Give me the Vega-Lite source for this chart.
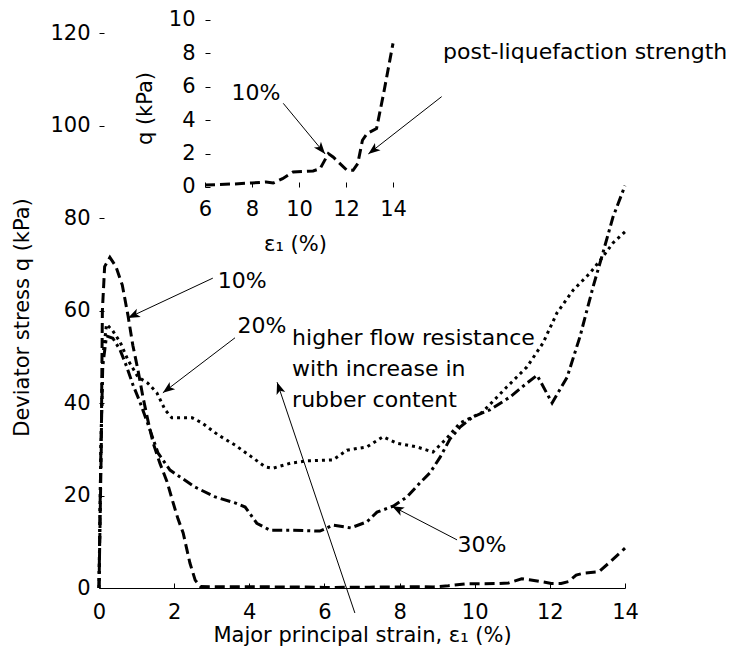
{
  "$schema": "https://vega.github.io/schema/vega-lite/v6.json",
  "width": 526,
  "height": 573,
  "autosize": {"type": "none"},
  "padding": {"left": 99, "top": 15, "right": 111, "bottom": 73},
  "background": "white",
  "config": {
    "view": {"stroke": null},
    "font": "DejaVu Sans",
    "axis": {
      "labelFont": "DejaVu Sans", "titleFont": "DejaVu Sans",
      "labelFontSize": 21, "titleFontSize": 21, "titleFontWeight": "normal",
      "labelColor": "black", "titleColor": "black", "tickColor": "black", "domainColor": "black",
      "grid": false, "tickSize": -5, "labelFlush": false, "labelOverlap": false
    },
    "text": {"font": "DejaVu Sans", "fontSize": 22, "color": "black"}
  },
  "datasets": {
    "main": [
      {"series": "10%", "x": 0, "y": 0}, {"series": "10%", "x": 0.06, "y": 30}, {"series": "10%", "x": 0.09, "y": 60},
      {"series": "10%", "x": 0.15, "y": 69.5}, {"series": "10%", "x": 0.29, "y": 71.5}, {"series": "10%", "x": 0.45, "y": 69.5},
      {"series": "10%", "x": 0.62, "y": 65.5}, {"series": "10%", "x": 0.77, "y": 59}, {"series": "10%", "x": 0.9, "y": 52.5},
      {"series": "10%", "x": 1.04, "y": 47}, {"series": "10%", "x": 1.17, "y": 41.3}, {"series": "10%", "x": 1.3, "y": 36.3},
      {"series": "10%", "x": 1.44, "y": 31.4}, {"series": "10%", "x": 1.62, "y": 27}, {"series": "10%", "x": 1.81, "y": 23},
      {"series": "10%", "x": 1.97, "y": 18.5}, {"series": "10%", "x": 2.1, "y": 15}, {"series": "10%", "x": 2.24, "y": 11.9},
      {"series": "10%", "x": 2.42, "y": 5.4}, {"series": "10%", "x": 2.56, "y": 1.7}, {"series": "10%", "x": 2.7, "y": 0.3},
      {"series": "10%", "x": 3.5, "y": 0.25}, {"series": "10%", "x": 4.5, "y": 0.25}, {"series": "10%", "x": 5.5, "y": 0.2},
      {"series": "10%", "x": 6, "y": 0.12}, {"series": "10%", "x": 7.2, "y": 0.18}, {"series": "10%", "x": 8.0, "y": 0.24},
      {"series": "10%", "x": 8.6, "y": 0.3}, {"series": "10%", "x": 8.9, "y": 0.24}, {"series": "10%", "x": 9.3, "y": 0.5},
      {"series": "10%", "x": 9.75, "y": 0.9}, {"series": "10%", "x": 10.6, "y": 0.96}, {"series": "10%", "x": 10.9, "y": 1.1},
      {"series": "10%", "x": 11.25, "y": 2.0}, {"series": "10%", "x": 11.45, "y": 1.8}, {"series": "10%", "x": 12.04, "y": 1.0},
      {"series": "10%", "x": 12.3, "y": 1.0}, {"series": "10%", "x": 12.5, "y": 1.4}, {"series": "10%", "x": 12.7, "y": 2.8},
      {"series": "10%", "x": 12.9, "y": 3.2}, {"series": "10%", "x": 13.3, "y": 3.5}, {"series": "10%", "x": 13.6, "y": 5.6},
      {"series": "10%", "x": 14, "y": 8.6},

      {"series": "20%", "x": 0, "y": 0}, {"series": "20%", "x": 0.05, "y": 30}, {"series": "20%", "x": 0.1, "y": 50},
      {"series": "20%", "x": 0.2, "y": 57}, {"series": "20%", "x": 0.35, "y": 55.8}, {"series": "20%", "x": 0.56, "y": 53.2},
      {"series": "20%", "x": 0.77, "y": 49.3}, {"series": "20%", "x": 1.04, "y": 45.6}, {"series": "20%", "x": 1.3, "y": 44.3},
      {"series": "20%", "x": 1.54, "y": 42.2}, {"series": "20%", "x": 1.76, "y": 38.5}, {"series": "20%", "x": 1.94, "y": 36.8},
      {"series": "20%", "x": 2.21, "y": 36.8}, {"series": "20%", "x": 2.48, "y": 36.8}, {"series": "20%", "x": 2.74, "y": 35.7},
      {"series": "20%", "x": 3.17, "y": 33.1}, {"series": "20%", "x": 3.62, "y": 30.9}, {"series": "20%", "x": 4.07, "y": 28.3},
      {"series": "20%", "x": 4.42, "y": 26.2}, {"series": "20%", "x": 4.63, "y": 25.9}, {"series": "20%", "x": 5.1, "y": 27},
      {"series": "20%", "x": 5.54, "y": 27.5}, {"series": "20%", "x": 6.23, "y": 27.7}, {"series": "20%", "x": 6.6, "y": 29.8},
      {"series": "20%", "x": 7.13, "y": 30.5}, {"series": "20%", "x": 7.56, "y": 32.7}, {"series": "20%", "x": 7.93, "y": 31.3},
      {"series": "20%", "x": 8.46, "y": 30.5}, {"series": "20%", "x": 8.89, "y": 29.4}, {"series": "20%", "x": 9.26, "y": 32.4},
      {"series": "20%", "x": 9.61, "y": 35.7}, {"series": "20%", "x": 9.95, "y": 37}, {"series": "20%", "x": 10.2, "y": 38},
      {"series": "20%", "x": 10.86, "y": 43.5}, {"series": "20%", "x": 11.39, "y": 47.8}, {"series": "20%", "x": 11.82, "y": 53},
      {"series": "20%", "x": 12.19, "y": 59.5}, {"series": "20%", "x": 12.62, "y": 64.4}, {"series": "20%", "x": 13.07, "y": 68.1},
      {"series": "20%", "x": 13.41, "y": 71.6}, {"series": "20%", "x": 13.68, "y": 74.6}, {"series": "20%", "x": 14, "y": 77},

      {"series": "30%", "x": 0, "y": 0}, {"series": "30%", "x": 0.05, "y": 30}, {"series": "30%", "x": 0.1, "y": 48},
      {"series": "30%", "x": 0.2, "y": 54.5}, {"series": "30%", "x": 0.37, "y": 54}, {"series": "30%", "x": 0.56, "y": 51.5},
      {"series": "30%", "x": 0.74, "y": 47.8}, {"series": "30%", "x": 0.9, "y": 44}, {"series": "30%", "x": 1.09, "y": 40.2},
      {"series": "30%", "x": 1.3, "y": 35.5}, {"series": "30%", "x": 1.57, "y": 29.2}, {"series": "30%", "x": 1.89, "y": 25.5},
      {"series": "30%", "x": 2.16, "y": 24}, {"series": "30%", "x": 2.56, "y": 21.8}, {"series": "30%", "x": 3.09, "y": 19.7},
      {"series": "30%", "x": 3.62, "y": 18.4}, {"series": "30%", "x": 3.89, "y": 17.5}, {"series": "30%", "x": 4.2, "y": 14},
      {"series": "30%", "x": 4.55, "y": 12.5}, {"series": "30%", "x": 5.17, "y": 12.5}, {"series": "30%", "x": 5.88, "y": 12.3},
      {"series": "30%", "x": 6.23, "y": 13.6}, {"series": "30%", "x": 6.7, "y": 13}, {"series": "30%", "x": 7.13, "y": 14.3},
      {"series": "30%", "x": 7.4, "y": 16.4}, {"series": "30%", "x": 7.83, "y": 17.7}, {"series": "30%", "x": 8.2, "y": 19.7},
      {"series": "30%", "x": 8.54, "y": 22.7}, {"series": "30%", "x": 8.81, "y": 24.9}, {"series": "30%", "x": 9.08, "y": 28.3},
      {"series": "30%", "x": 9.34, "y": 32.2}, {"series": "30%", "x": 9.61, "y": 34.8}, {"series": "30%", "x": 9.95, "y": 37},
      {"series": "30%", "x": 10.4, "y": 38.5}, {"series": "30%", "x": 10.94, "y": 41.3}, {"series": "30%", "x": 11.39, "y": 44.3},
      {"series": "30%", "x": 11.66, "y": 46}, {"series": "30%", "x": 12.06, "y": 40}, {"series": "30%", "x": 12.46, "y": 45.6},
      {"series": "30%", "x": 12.8, "y": 54.3}, {"series": "30%", "x": 13.15, "y": 65.1}, {"series": "30%", "x": 13.41, "y": 72.4},
      {"series": "30%", "x": 13.68, "y": 80.2}, {"series": "30%", "x": 14, "y": 87}
    ],
    "inset": [
      {"x": 6, "y": 0.12}, {"x": 7.2, "y": 0.18}, {"x": 8.0, "y": 0.24}, {"x": 8.6, "y": 0.3}, {"x": 8.9, "y": 0.24},
      {"x": 9.3, "y": 0.5}, {"x": 9.75, "y": 0.9}, {"x": 10.6, "y": 0.96}, {"x": 10.9, "y": 1.1}, {"x": 11.25, "y": 2.0},
      {"x": 11.45, "y": 1.8}, {"x": 12.04, "y": 1.0}, {"x": 12.3, "y": 1.0}, {"x": 12.5, "y": 1.4}, {"x": 12.7, "y": 2.8},
      {"x": 12.9, "y": 3.2}, {"x": 13.3, "y": 3.5}, {"x": 13.6, "y": 5.6}, {"x": 14, "y": 8.6}
    ],
    "mainNotes": [
      {"label": "10%", "x": 3.81, "y": 64.9},
      {"label": "20%", "x": 4.34, "y": 55.1},
      {"label": "30%", "x": 10.19, "y": 7.8}
    ],
    "mainArrows": [
      {"x": 3.03, "y": 67.0, "x2": 0.77, "y2": 58.4},
      {"x": 3.62, "y": 54.1, "x2": 1.70, "y2": 42.2},
      {"x": 9.53, "y": 10.4, "x2": 7.80, "y2": 17.7},
      {"x": 6.81, "y": -5.4, "x2": 4.74, "y2": 44.5}
    ],
    "mainBlock": [
      {"label": "higher flow resistance\nwith increase in\nrubber content", "x": 5.14, "y": 52.5}
    ],
    "insetNotes": [
      {"label": "10%", "x": 8.17, "y": 5.21}
    ],
    "insetSide": [
      {"label": "post-liquefaction strength", "x": 16.13, "y": 7.66}
    ],
    "insetArrows": [
      {"x": 9.33, "y": 5.01, "x2": 11.11, "y2": 1.98},
      {"x": 16.07, "y": 5.41, "x2": 12.95, "y2": 1.98}
    ]
  },
  "layer": [
    {
      "layer": [
        {
          "data": {"name": "main"},
          "mark": {"type": "line", "color": "black", "strokeWidth": 3, "strokeCap": "butt"},
          "encoding": {
            "x": {"field": "x", "type": "quantitative",
                  "scale": {"domain": [0, 14], "nice": false, "zero": false},
                  "axis": {"values": [0, 2, 4, 6, 8, 10, 12, 14], "title": "Major principal strain, ε₁ (%)",
                           "orient": "bottom", "labelPadding": 18, "titlePadding": 2}},
            "y": {"field": "y", "type": "quantitative",
                  "scale": {"domain": [0, 123.892], "nice": false, "zero": false},
                  "axis": {"values": [0, 20, 40, 60, 80, 100, 120], "title": "Deviator stress q (kPa)",
                           "orient": "left", "domain": false, "labelPadding": 14, "titlePadding": 17, "titleY": 302}},
            "strokeDash": {"field": "series", "type": "nominal",
                           "scale": {"domain": ["10%", "20%", "30%"], "range": [[10, 5], [3, 4], [10, 4, 3, 4]]},
                           "legend": null}
          }
        },
        {
          "mark": {"type": "rule", "color": "black", "strokeWidth": 1},
          "encoding": {"x": {"datum": 0}, "y": {"datum": 0}, "y2": {"datum": 120}}
        },
        {
          "data": {"name": "mainArrows"},
          "mark": {"type": "rule", "color": "black", "strokeWidth": 1},
          "encoding": {
            "x": {"field": "x", "type": "quantitative"}, "y": {"field": "y", "type": "quantitative"},
            "x2": {"field": "x2"}, "y2": {"field": "y2"}
          }
        },
        {
          "data": {"name": "mainArrows"},
          "transform": [{"calculate": "atan2((datum.x2 - datum.x) * 37.571, (datum.y2 - datum.y) * 4.625) * 180 / PI", "as": "heading"}],
          "mark": {"type": "point", "shape": "M0,0L0.38,1L0,0.75L-0.38,1Z", "filled": true, "color": "black", "size": 576, "opacity": 1},
          "encoding": {
            "x": {"field": "x2", "type": "quantitative"}, "y": {"field": "y2", "type": "quantitative"},
            "angle": {"field": "heading", "type": "quantitative", "scale": null}
          }
        },
        {
          "data": {"name": "mainNotes"},
          "mark": {"type": "text", "align": "center", "baseline": "alphabetic", "fontSize": 22},
          "encoding": {
            "x": {"field": "x", "type": "quantitative"}, "y": {"field": "y", "type": "quantitative"},
            "text": {"field": "label"}
          }
        },
        {
          "data": {"name": "mainBlock"},
          "mark": {"type": "text", "align": "left", "baseline": "alphabetic", "fontSize": 22, "lineBreak": "\n", "lineHeight": 31},
          "encoding": {
            "x": {"field": "x", "type": "quantitative"}, "y": {"field": "y", "type": "quantitative"},
            "text": {"field": "label"}
          }
        }
      ]
    },
    {
      "layer": [
        {
          "data": {"name": "inset"},
          "mark": {"type": "line", "color": "black", "strokeWidth": 3, "strokeCap": "butt", "strokeDash": [10, 5]},
          "encoding": {
            "x": {"field": "x", "type": "quantitative",
                  "scale": {"domain": [1.4894, 23.872], "nice": false, "zero": false},
                  "axis": {"values": [6, 8, 10, 12, 14], "title": "ε₁ (%)", "orient": "bottom", "offset": -401,
                           "domain": false, "labelPadding": 16, "titlePadding": 14, "titleX": 196}},
            "y": {"field": "y", "type": "quantitative",
                  "scale": {"domain": [-24.012, 10.299], "nice": false, "zero": false},
                  "axis": {"values": [0, 2, 4, 6, 8, 10], "title": "q (kPa)", "orient": "left", "offset": -106,
                           "domain": false, "labelPadding": 15, "titlePadding": 13, "titleY": 93}}
          }
        },
        {
          "mark": {"type": "rule", "color": "black", "strokeWidth": 1},
          "encoding": {"x": {"datum": 6}, "x2": {"datum": 14}, "y": {"datum": 0}}
        },
        {
          "mark": {"type": "rule", "color": "black", "strokeWidth": 1},
          "encoding": {"x": {"datum": 6}, "y": {"datum": 0}, "y2": {"datum": 10}}
        },
        {
          "data": {"name": "insetArrows"},
          "mark": {"type": "rule", "color": "black", "strokeWidth": 1},
          "encoding": {
            "x": {"field": "x", "type": "quantitative"}, "y": {"field": "y", "type": "quantitative"},
            "x2": {"field": "x2"}, "y2": {"field": "y2"}
          }
        },
        {
          "data": {"name": "insetArrows"},
          "transform": [{"calculate": "atan2((datum.x2 - datum.x) * 23.5, (datum.y2 - datum.y) * 16.7) * 180 / PI", "as": "heading"}],
          "mark": {"type": "point", "shape": "M0,0L0.38,1L0,0.75L-0.38,1Z", "filled": true, "color": "black", "size": 576, "opacity": 1},
          "encoding": {
            "x": {"field": "x2", "type": "quantitative"}, "y": {"field": "y2", "type": "quantitative"},
            "angle": {"field": "heading", "type": "quantitative", "scale": null}
          }
        },
        {
          "data": {"name": "insetNotes"},
          "mark": {"type": "text", "align": "center", "baseline": "alphabetic", "fontSize": 22},
          "encoding": {
            "x": {"field": "x", "type": "quantitative"}, "y": {"field": "y", "type": "quantitative"},
            "text": {"field": "label"}
          }
        },
        {
          "data": {"name": "insetSide"},
          "mark": {"type": "text", "align": "left", "baseline": "alphabetic", "fontSize": 22},
          "encoding": {
            "x": {"field": "x", "type": "quantitative"}, "y": {"field": "y", "type": "quantitative"},
            "text": {"field": "label"}
          }
        }
      ]
    }
  ],
  "resolve": {"scale": {"x": "independent", "y": "independent"}, "axis": {"x": "independent", "y": "independent"}}
}
